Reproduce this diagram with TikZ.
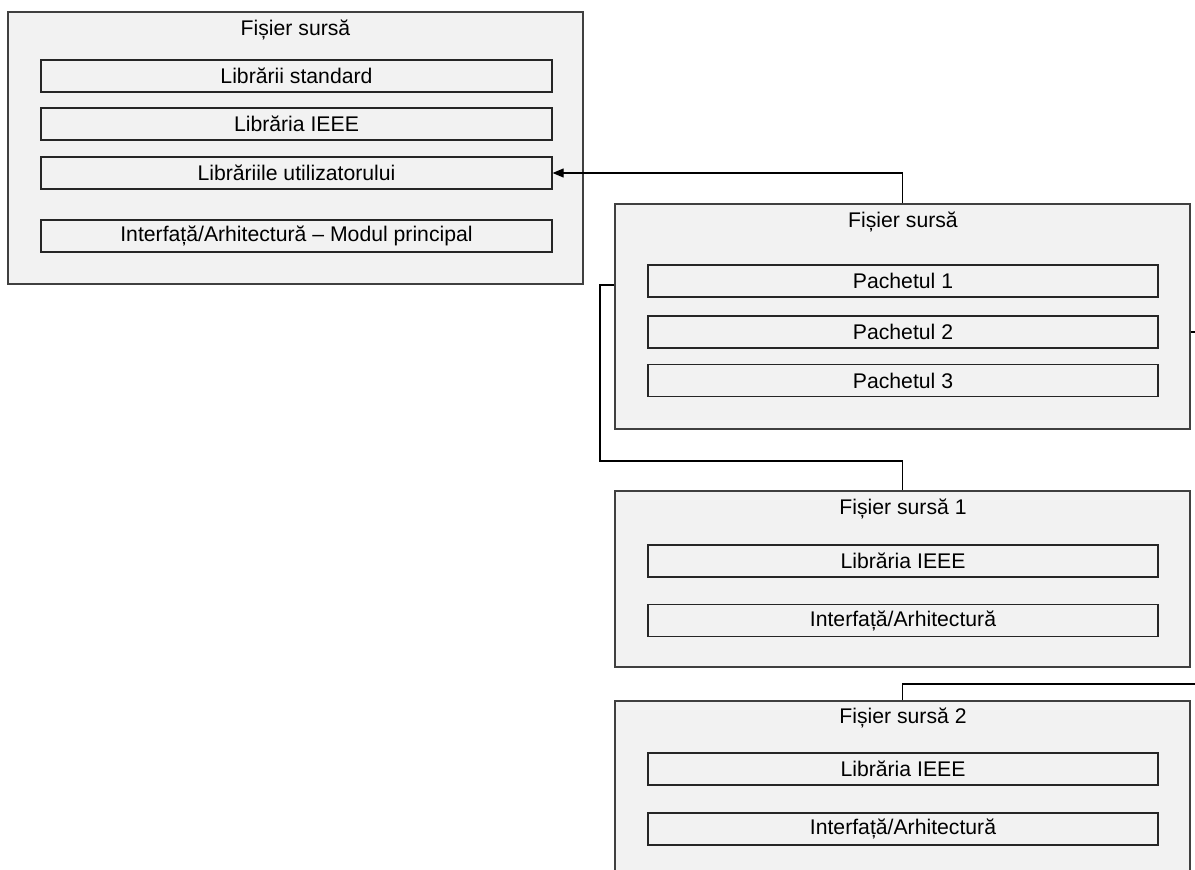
\documentclass[tikz,border=0pt]{standalone}
\usepackage{fontspec}
\setmainfont{Liberation Sans}
\usetikzlibrary{arrows.meta}
\definecolor{boxfill}{HTML}{F2F2F2}
\definecolor{boxline}{HTML}{404040}
\tikzset{
  filebox/.style={draw=boxline, fill=boxfill, line width=1.3pt, rectangle,
    minimum width=575pt, inner sep=0pt},
  partbox/.style={draw=black!85, fill=boxfill, line width=1.3pt, rectangle,
    minimum height=32pt, inner sep=0pt,
    font=\fontsize{21.2}{25}\selectfont},
  titletext/.style={inner sep=0pt, font=\fontsize{21.2}{25}\selectfont},
  link/.style={draw=black, line width=1.2pt},
  arrowlink/.style={link, -{Triangle[length=11pt,width=9pt]}}
}
\begin{document}
\begin{tikzpicture}[x=1pt,y=-1pt]
\useasboundingbox (0,0) rectangle (1195,870);
\clip (0,0) rectangle (1195,870);

% main source file
\node[filebox, minimum height=272pt] (main) at (295.5,148) {};
\node[titletext] (mainT) at (295.5,30) {Fișier sursă};
\node[partbox, minimum width=511pt] (std) at (296.5,76) {Librării standard};
\node[partbox, minimum width=511pt] (ieee) at (296.5,124) {Librăria IEEE};
\node[partbox, minimum width=511pt] (user) at (296.5,173) {Librăriile utilizatorului};
\node[partbox, minimum width=511pt] (top) at (296.5,236) {Interfață/Arhitectură – Modul principal};

% package file
\node[filebox, minimum height=225pt] (pkg) at (902.5,316.5) {};
\node[titletext] (pkgT) at (903,222) {Fișier sursă};
\node[partbox, minimum width=510pt] (p1) at (903,281) {Pachetul 1};
\node[partbox, minimum width=510pt] (p2) at (903,332) {Pachetul 2};
\node[partbox, minimum width=510pt] (p3) at (903,380.5) {Pachetul 3};

% source file 1
\node[filebox, minimum height=176pt] (s1) at (902.5,579) {};
\node[titletext] (s1T) at (903,509) {Fișier sursă 1};
\node[partbox, minimum width=510pt] (s1a) at (903,561) {Librăria IEEE};
\node[partbox, minimum width=510pt] (s1b) at (903,620.5) {Interfață/Arhitectură};

% source file 2
\node[filebox, minimum height=174pt] (s2) at (902.5,788) {};
\node[titletext] (s2T) at (903,718) {Fișier sursă 2};
\node[partbox, minimum width=510pt] (s2a) at (903,769) {Librăria IEEE};
\node[partbox, minimum width=510pt] (s2b) at (903,829) {Interfață/Arhitectură};

% connectors
\coordinate (pkgOut) at (1205,332);
\coordinate (s2Out) at (1205,684);

\draw[arrowlink] (pkg.north) |- (user.east);
\draw[link] (pkg.west |- 0,285) -- (600,285) -- (600,461) -| (s1.north);
\draw[link] (pkg.east |- pkgOut) -- (pkgOut);
\draw[link] (s2.north) |- (s2Out);
\end{tikzpicture}
\end{document}
